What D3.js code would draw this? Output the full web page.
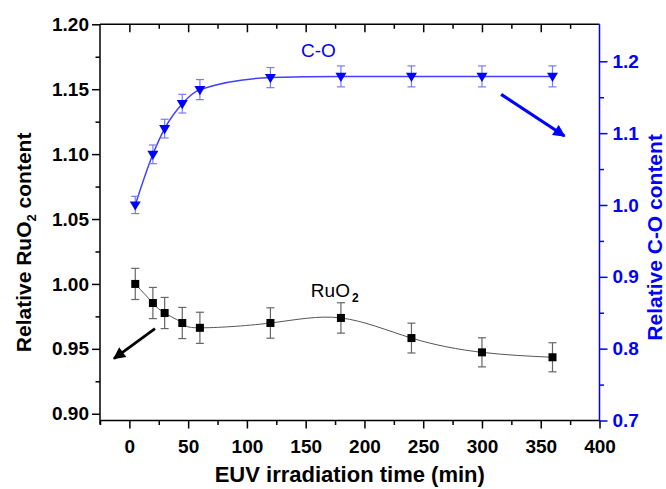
<!DOCTYPE html>
<html>
<head>
<meta charset="utf-8">
<script src="https://cdn.jsdelivr.net/npm/d3@7"></script>
<style>
  html, body { margin: 0; padding: 0; background: #fff; }
  svg { display: block; }
  text { font-family: "Liberation Sans", Arial, Helvetica, sans-serif; }
</style>
</head>
<body>
<svg id="chart" width="666" height="489"></svg>
<script>
// ---- data ----
const time = [5, 20, 30, 45, 60, 120, 180, 240, 300, 360];
const ruo2 = [1.000, 0.9853, 0.9776, 0.9699, 0.9662, 0.9699, 0.9738, 0.9583, 0.9473, 0.9435];
const ruo2Err = [0.012, 0.012, 0.012, 0.012, 0.012, 0.0117, 0.0117, 0.0115, 0.0112, 0.0112];
const co = [1.000, 1.0705, 1.1063, 1.141, 1.1606, 1.1773, 1.1790, 1.1790, 1.1790, 1.1790];
const coErr = [0.012, 0.013, 0.013, 0.013, 0.014, 0.014, 0.0146, 0.0146, 0.0146, 0.0146];

const xMajor = [0, 50, 100, 150, 200, 250, 300, 350, 400];
const xMinor = [-25, 25, 75, 125, 175, 225, 275, 325, 375];
const yLMajor = [0.90, 0.95, 1.00, 1.05, 1.10, 1.15, 1.20];
const yLMinor = [0.925, 0.975, 1.025, 1.075, 1.125, 1.175];
const yRMajor = [0.7, 0.8, 0.9, 1.0, 1.1, 1.2];
const yRMinor = [0.75, 0.85, 0.95, 1.05, 1.15];

const xTitle = "EUV irradiation time (min)";
const coLabel = "C-O";

// ---- layout ----
const L = 100, R = 599.5, T = 24.3, B = 420.5;
const svg = d3.select("#chart");
const x = d3.scaleLinear().domain([-25, 400]).range([L, R]);
const yL = d3.scaleLinear().domain([0.8948, 1.20]).range([B, T]);
const yR = d3.scaleLinear().domain([0.7, 1.2515]).range([B, T]);

const BLUE = "#0000ff";
const tickFont = 19;

// ---- axes ----
function styleAxis(g, color) {
  g.select(".domain").remove();
  g.selectAll(".tick line").attr("stroke", color).attr("stroke-width", 1.5);
  g.selectAll(".tick text").attr("fill", color).attr("font-size", tickFont)
    .attr("font-weight", "bold").attr("font-family", '"Liberation Sans", Arial, sans-serif');
}

// left
svg.append("g").attr("transform", `translate(${L},0)`)
  .call(d3.axisLeft(yL).tickValues(yLMajor).tickSize(8).tickPadding(3).tickFormat(d3.format(".2f")))
  .call(g => styleAxis(g, "#000"));
svg.append("g").attr("transform", `translate(${L},0)`)
  .call(d3.axisLeft(yL).tickValues(yLMinor).tickSize(4.5).tickFormat(""))
  .call(g => styleAxis(g, "#000"));

// bottom
svg.append("g").attr("transform", `translate(0,${B})`)
  .call(d3.axisBottom(x).tickValues(xMajor).tickSize(8).tickPadding(11).tickFormat(d3.format("d")))
  .call(g => styleAxis(g, "#000"));
svg.append("g").attr("transform", `translate(0,${B})`)
  .call(d3.axisBottom(x).tickValues(xMinor).tickSize(4.5).tickFormat(""))
  .call(g => styleAxis(g, "#000"));

// top (inward ticks)
svg.append("g").attr("transform", `translate(0,${T})`)
  .call(d3.axisTop(x).tickValues(xMajor.filter(v => v < 400)).tickSize(-8).tickFormat(""))
  .call(g => styleAxis(g, "#000"));
svg.append("g").attr("transform", `translate(0,${T})`)
  .call(d3.axisTop(x).tickValues(xMinor.filter(v => v > -25)).tickSize(-4.5).tickFormat(""))
  .call(g => styleAxis(g, "#000"));

// right (blue)
svg.append("g").attr("transform", `translate(${R},0)`)
  .call(d3.axisRight(yR).tickValues(yRMajor).tickSize(8).tickPadding(5).tickFormat(d3.format(".1f")))
  .call(g => styleAxis(g, BLUE));
svg.append("g").attr("transform", `translate(${R},0)`)
  .call(d3.axisRight(yR).tickValues(yRMinor).tickSize(4.5).tickFormat(""))
  .call(g => styleAxis(g, BLUE));

// frame lines
svg.append("line").attr("x1", L).attr("x2", R).attr("y1", T).attr("y2", T).attr("stroke", "#000").attr("stroke-width", 1.5);
svg.append("line").attr("x1", L).attr("x2", R).attr("y1", B).attr("y2", B).attr("stroke", "#000").attr("stroke-width", 1.5);
svg.append("line").attr("x1", L).attr("x2", L).attr("y1", T).attr("y2", B + 4).attr("stroke", "#000").attr("stroke-width", 1.5);
svg.append("line").attr("x1", R).attr("x2", R).attr("y1", T).attr("y2", B).attr("stroke", BLUE).attr("stroke-width", 1.5);

// ---- RuO2 series ----
const ruData = time.map((t, i) => ({ t, v: ruo2[i], e: ruo2Err[i] }));
const coData = time.map((t, i) => ({ t, v: co[i], e: coErr[i] }));

svg.append("path").datum(ruData)
  .attr("d", d3.line().x(d => x(d.t)).y(d => yL(d.v)).curve(d3.curveNatural))
  .attr("fill", "none").attr("stroke", "#555").attr("stroke-width", 1);

const cap = 4;
const ruErr = svg.append("g").attr("stroke", "#666").attr("stroke-width", 1.2);
ruData.forEach(d => {
  const xc = x(d.t), y1 = yL(d.v + d.e), y2 = yL(d.v - d.e);
  ruErr.append("line").attr("x1", xc).attr("x2", xc).attr("y1", y1).attr("y2", y2);
  ruErr.append("line").attr("x1", xc - cap).attr("x2", xc + cap).attr("y1", y1).attr("y2", y1);
  ruErr.append("line").attr("x1", xc - cap).attr("x2", xc + cap).attr("y1", y2).attr("y2", y2);
});
svg.append("g").selectAll("rect").data(ruData).join("rect")
  .attr("x", d => x(d.t) - 4).attr("y", d => yL(d.v) - 4)
  .attr("width", 8).attr("height", 8).attr("fill", "#000");

// ---- C-O series ----
svg.append("path").datum(coData)
  .attr("d", d3.line().x(d => x(d.t)).y(d => yR(d.v)).curve(d3.curveMonotoneX))
  .attr("fill", "none").attr("stroke", "#4040ff").attr("stroke-width", 1.5);

const coErrG = svg.append("g").attr("stroke", "#7a7aff").attr("stroke-width", 1.2);
coData.forEach(d => {
  const xc = x(d.t), y1 = yR(d.v + d.e), y2 = yR(d.v - d.e);
  coErrG.append("line").attr("x1", xc).attr("x2", xc).attr("y1", y1).attr("y2", y2);
  coErrG.append("line").attr("x1", xc - cap).attr("x2", xc + cap).attr("y1", y1).attr("y2", y1);
  coErrG.append("line").attr("x1", xc - cap).attr("x2", xc + cap).attr("y1", y2).attr("y2", y2);
});
svg.append("g").selectAll("path").data(coData).join("path")
  .attr("transform", d => `translate(${x(d.t)},${yR(d.v)})`)
  .attr("d", "M-5.5,-3.6L5.5,-3.6L0,5.6Z").attr("fill", BLUE);

// ---- annotations ----
svg.append("text").attr("x", x(146)).attr("y", yR(1.206))
  .attr("font-size", 19).attr("fill", BLUE).text(coLabel);

const ruLbl = svg.append("text").attr("x", x(154.4)).attr("y", yL(0.9897))
  .attr("font-size", 19).attr("fill", "#000");
ruLbl.append("tspan").text("RuO");
ruLbl.append("tspan").attr("font-size", 12).attr("font-weight", "bold").attr("dx", 2).attr("dy", 5).text("2");

const defs = svg.append("defs");
function marker(id, color, w, h) {
  defs.append("marker").attr("id", id).attr("viewBox", "0 0 10 10")
    .attr("refX", 9).attr("refY", 5).attr("markerWidth", w).attr("markerHeight", h)
    .attr("markerUnits", "strokeWidth").attr("orient", "auto")
    .append("path").attr("d", "M0,0L10,5L0,10Z").attr("fill", color);
}
marker("ahBlue", BLUE, 4.4, 3.8);
marker("ahBlack", "#000", 5.0, 4.3);

svg.append("line").attr("x1", x(316.3)).attr("y1", yR(1.154)).attr("x2", x(370.2)).attr("y2", yR(1.096))
  .attr("stroke", BLUE).attr("stroke-width", 3.2).attr("marker-end", "url(#ahBlue)");
svg.append("line").attr("x1", x(21.8)).attr("y1", yL(0.9656)).attr("x2", x(-13.1)).attr("y2", yL(0.9425))
  .attr("stroke", "#000").attr("stroke-width", 2.8).attr("marker-end", "url(#ahBlack)");

// ---- axis titles ----
svg.append("text").attr("x", (L + R) / 2).attr("y", 482)
  .attr("text-anchor", "middle").attr("font-size", 22).attr("font-weight", "bold")
  .attr("fill", "#000").text(xTitle);

const lt = svg.append("text").attr("transform", `translate(30.5,${(T + B) / 2 + 20}) rotate(-90)`)
  .attr("text-anchor", "middle").attr("font-size", 21).attr("font-weight", "bold").attr("fill", "#000");
lt.append("tspan").text("Relative RuO");
lt.append("tspan").attr("font-size", 13).attr("dy", 5).text("2");
lt.append("tspan").attr("dy", -5).text(" content");

svg.append("text").attr("transform", `translate(662,${(T + B) / 2 + 15}) rotate(-90)`)
  .attr("text-anchor", "middle").attr("font-size", 21).attr("font-weight", "bold")
  .attr("fill", BLUE).text("Relative C-O content");
</script>
</body>
</html>
